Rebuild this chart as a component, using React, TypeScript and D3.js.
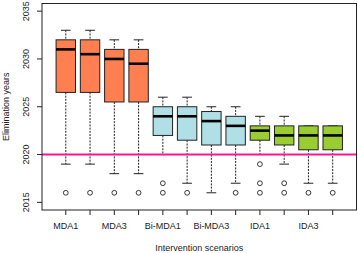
import React from "react";
import * as d3 from "d3";

const categories = ["MDA1", "MDA2", "MDA3", "MDA4", "Bi-MDA1", "Bi-MDA2", "Bi-MDA3", "Bi-MDA4", "IDA1", "IDA2", "IDA3", "IDA4"];
const tickLabels = ["MDA1", "", "MDA3", "", "Bi-MDA1", "", "Bi-MDA3", "", "IDA1", "", "IDA3", ""];
const whiskerLow = [2019, 2019, 2018, 2018, 2020, 2017, 2016, 2017, 2020, 2019, 2017, 2017];
const q1 = [2026.5, 2026.5, 2025.5, 2025.5, 2022, 2021.5, 2021, 2021, 2021.5, 2021, 2020.5, 2020.5];
const medians = [2031, 2030.5, 2030, 2029.5, 2024, 2024, 2023.5, 2023, 2022.5, 2022, 2022, 2022];
const q3 = [2032, 2032, 2031, 2031, 2025, 2025, 2024.5, 2024, 2023, 2023, 2023, 2023];
const whiskerHigh = [2033, 2033, 2032, 2032, 2026, 2026, 2025, 2025, 2024, 2024, 2023, 2023];
const outliers = [[2016], [2016], [2016], [2016], [2017, 2016], [2016], [], [2016], [2019, 2017, 2016], [2017, 2016], [2016], [2016]];
const groupColors = ["#FF7F50", "#FF7F50", "#FF7F50", "#FF7F50", "#B0E0E6", "#B0E0E6", "#B0E0E6", "#B0E0E6", "#9ACD32", "#9ACD32", "#9ACD32", "#9ACD32"];
const yTicks = [2015, 2020, 2025, 2030, 2035];
const targetYear = 2020;

export default function App() {
  const W = 358, H = 253;
  const L = 42, R = 356.5, T = 3.5, B = 210;
  const x = d3.scaleLinear().domain([0.02, 12.98]).range([L, R]);
  const y = d3.scaleLinear().domain([2014.2, 2035.8]).range([B, T]);
  const bw = x(1.4) - x(1);
  const font = "'Liberation Sans', Arial, Helvetica, sans-serif";
  const ink = "#222";
  return (
    <svg width={W} height={H} style={{ position: "absolute", left: 0, top: 0, background: "#fff" }} fontFamily={font}>
      {categories.map((c, i) => {
        const cx = x(i + 1);
        return (
          <g key={c}>
            <line x1={cx} x2={cx} y1={y(whiskerHigh[i])} y2={y(q3[i])} stroke={ink} strokeDasharray="2,1.2" />
            <line x1={cx} x2={cx} y1={y(q1[i])} y2={y(whiskerLow[i])} stroke={ink} strokeDasharray="2,1.2" />
            <line x1={cx - bw / 2} x2={cx + bw / 2} y1={y(whiskerHigh[i])} y2={y(whiskerHigh[i])} stroke={ink} />
            <line x1={cx - bw / 2} x2={cx + bw / 2} y1={y(whiskerLow[i])} y2={y(whiskerLow[i])} stroke={ink} />
            <rect x={cx - bw} y={y(q3[i])} width={bw * 2} height={y(q1[i]) - y(q3[i])} fill={groupColors[i]} stroke={ink} strokeWidth={1} />
            <line x1={cx - bw} x2={cx + bw} y1={y(medians[i])} y2={y(medians[i])} stroke="#000" strokeWidth={2.6} />
            {outliers[i].map((o, j) => (
              <circle key={j} cx={cx} cy={y(o)} r={2.4} fill="none" stroke={ink} strokeWidth={0.9} />
            ))}
          </g>
        );
      })}
      <line x1={L} x2={R} y1={y(targetYear)} y2={y(targetYear)} stroke="#FF1493" strokeWidth={2} />
      <rect x={L} y={T} width={R - L} height={B - T} fill="none" stroke={ink} strokeWidth={1} />
      {categories.map((c, i) => (
        <g key={"t" + c}>
          <line x1={x(i + 1)} x2={x(i + 1)} y1={B} y2={B + 5} stroke={ink} />
          {tickLabels[i] && (
            <text x={x(i + 1)} y={229} textAnchor="middle" fontSize={9} fill={ink}>{tickLabels[i]}</text>
          )}
        </g>
      ))}
      {yTicks.map((t) => (
        <g key={t}>
          <line x1={L - 5} x2={L} y1={y(t)} y2={y(t)} stroke={ink} />
          <text transform={`translate(29,${y(t)}) rotate(-90)`} textAnchor="middle" fontSize={9} fill={ink}>{t}</text>
        </g>
      ))}
      <text x={(L + R) / 2} y={251} textAnchor="middle" fontSize={9} fill={ink}>Intervention scenarios</text>
      <text transform={`translate(9,${(T + B) / 2}) rotate(-90)`} textAnchor="middle" fontSize={9} fill={ink}>Elimination years</text>
    </svg>
  );
}
